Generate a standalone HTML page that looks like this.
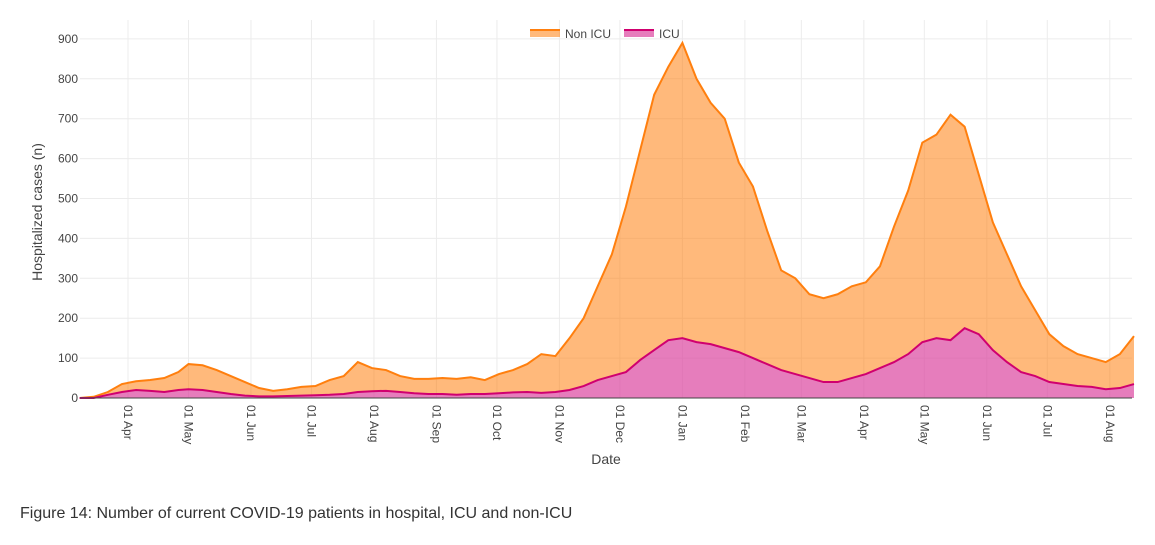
<!DOCTYPE html>
<html><head><meta charset="utf-8"><style>
body{margin:0;background:#fff;font-family:"Liberation Sans",sans-serif;}
svg text{font-family:"Liberation Sans",sans-serif;}
</style></head><body>
<svg id="chart" width="1155" height="545" viewBox="0 0 1155 545" style="position:absolute;left:0;top:0"></svg>
<script>
const dates=["2020-03-08","2020-03-15","2020-03-22","2020-03-29","2020-04-05","2020-04-12","2020-04-19","2020-04-26","2020-05-01","2020-05-08","2020-05-15","2020-05-22","2020-05-29","2020-06-05","2020-06-12","2020-06-19","2020-06-26","2020-07-03","2020-07-10","2020-07-17","2020-07-24","2020-07-31","2020-08-07","2020-08-14","2020-08-21","2020-08-28","2020-09-04","2020-09-11","2020-09-18","2020-09-25","2020-10-02","2020-10-09","2020-10-16","2020-10-23","2020-10-30","2020-11-06","2020-11-13","2020-11-20","2020-11-27","2020-12-04","2020-12-11","2020-12-18","2020-12-25","2021-01-01","2021-01-08","2021-01-15","2021-01-22","2021-01-29","2021-02-05","2021-02-12","2021-02-19","2021-02-26","2021-03-05","2021-03-12","2021-03-19","2021-03-26","2021-04-02","2021-04-09","2021-04-16","2021-04-23","2021-04-30","2021-05-07","2021-05-14","2021-05-21","2021-05-28","2021-06-04","2021-06-11","2021-06-18","2021-06-25","2021-07-02","2021-07-09","2021-07-16","2021-07-23","2021-07-30","2021-08-06","2021-08-13"];
const icu=[0,0,8,15,20,18,15,20,22,20,15,10,6,4,4,5,6,7,8,10,15,17,18,15,12,10,10,8,10,10,12,14,15,13,15,20,30,45,55,65,95,120,145,150,140,135,125,115,100,85,70,60,50,40,40,50,60,75,90,110,140,150,145,175,160,120,90,65,55,40,35,30,28,22,25,35];
const nonIcu=[0,3,7,20,22,27,35,45,63,62,55,45,34,21,14,17,22,23,37,45,75,58,52,40,36,38,40,40,42,35,48,56,70,97,90,130,170,235,305,415,525,640,685,740,660,605,575,475,430,335,250,240,210,210,220,230,230,255,340,410,500,510,565,505,400,320,270,215,165,120,95,80,72,68,85,120];
const yTicks=[0,100,200,300,400,500,600,700,800,900];
const xTickLabels=["01 Apr","01 May","01 Jun","01 Jul","01 Aug","01 Sep","01 Oct","01 Nov","01 Dec","01 Jan","01 Feb","01 Mar","01 Apr","01 May","01 Jun","01 Jul","01 Aug"];
const xTickDates=["2020-04-01","2020-05-01","2020-06-01","2020-07-01","2020-08-01","2020-09-01","2020-10-01","2020-11-01","2020-12-01","2021-01-01","2021-02-01","2021-03-01","2021-04-01","2021-05-01","2021-06-01","2021-07-01","2021-08-01"];

const NS="http://www.w3.org/2000/svg",svg=document.getElementById('chart');
const L=80,R=1132,T=20,B=398;
const d0=Date.parse("2020-04-01");
const x=d=>128+(Date.parse(d)-d0)/864e5*2.016;
const y=v=>B-v*0.399;
function mk(t,a,p){const e=document.createElementNS(NS,t);for(const k in a)e.setAttribute(k,a[k]);(p||svg).appendChild(e);return e;}
const grid=mk('g',{});


yTicks.forEach(v=>{
  if(v>0)mk('line',{x1:L,x2:R,y1:y(v),y2:y(v),stroke:'#ececec'},grid);
  const t=mk('text',{x:L-2,y:y(v)+4,'text-anchor':'end','font-size':12,fill:'#444'});
  
  
  t.textContent=v;
});
xTickDates.forEach((d,i)=>{
  const xx=x(d);
  mk('line',{x1:xx,x2:xx,y1:T,y2:B,stroke:'#ececec'},grid);
  const t=mk('text',{transform:`translate(${xx-4},405) rotate(90)`,'font-size':12,fill:'#444'});
  
  
  t.textContent=xTickLabels[i];
});
const topPts=dates.map((d,i)=>[x(d),y(icu[i]+nonIcu[i])]);
const lowPts=dates.map((d,i)=>[x(d),y(icu[i])]);
const ln=p=>p.map(q=>q.join(',')).join(' L');
const a1=mk('path',{d:'M'+ln(topPts)+' L'+ln(lowPts.slice().reverse())+'Z',fill:'rgba(255,127,14,0.55)'});


const l1=mk('path',{d:'M'+ln(topPts),fill:'none',stroke:'#ff7f0e','stroke-width':2});


const a2=mk('path',{d:'M'+ln(lowPts)+` L${x(dates[dates.length-1])},${B} L${x(dates[0])},${B}Z`,fill:'rgba(220,70,160,0.7)'});


const l2=mk('path',{d:'M'+ln(lowPts),fill:'none',stroke:'#d0006f','stroke-width':2});


mk('line',{x1:L,x2:R,y1:B,y2:B,stroke:'#444','stroke-width':1});
</script>
<svg style="position:absolute;left:0;top:0" width="1155" height="545">
<g>
 <g>
  <rect x="530" y="30" width="30" height="7" fill="rgba(255,127,14,0.55)"/><line x1="530" x2="560" y1="30" y2="30" stroke="#ff7f0e" stroke-width="2"/>
  <text x="565" y="38" font-size="12" fill="#444">Non ICU</text></g>
 <g>
  <rect x="624" y="30" width="30" height="7" fill="rgba(220,70,160,0.7)"/><line x1="624" x2="654" y1="30" y2="30" stroke="#d0006f" stroke-width="2"/>
  <text x="659" y="38" font-size="12" fill="#444">ICU</text></g>
</g>
<text transform="translate(42,212) rotate(-90)" text-anchor="middle" font-size="14" fill="#444">Hospitalized cases (n)</text>
<text x="606" y="464" text-anchor="middle" font-size="14" fill="#444">Date</text>
<text x="20" y="518" font-size="16" fill="#333">Figure 14: Number of current COVID-19 patients in hospital, ICU and non-ICU</text>
</svg>
</body></html>
